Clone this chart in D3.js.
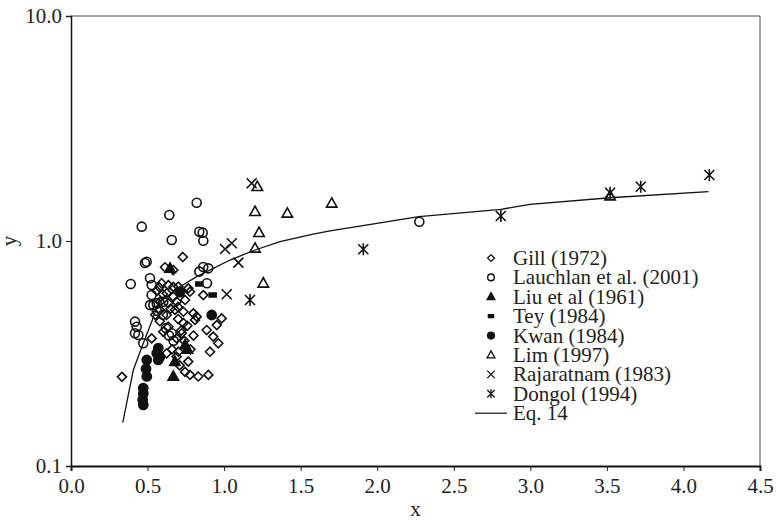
<!DOCTYPE html>
<html>
<head>
<meta charset="utf-8">
<script src="https://cdn.jsdelivr.net/npm/d3@7"></script>
<style>
  body { margin: 0; background: #fff; }
  text { font-family: "Liberation Serif", "Times New Roman", serif; fill: #222; }
</style>
</head>
<body>
<div id="chart"></div>
<script>
// data
var gill = [
  [0.333, 0.249], [0.730, 0.849], [0.614, 0.764], [0.668, 0.743], [0.577, 0.623],
  [0.636, 0.637], [0.701, 0.627], [0.766, 0.616], [0.864, 0.575], [0.592, 0.649],
  [0.668, 0.625], [0.777, 0.595], [0.625, 0.586], [0.668, 0.565], [0.581, 0.537],
  [0.636, 0.529], [0.690, 0.537], [0.745, 0.547], [0.679, 0.494], [0.734, 0.485],
  [0.799, 0.477], [0.625, 0.469], [0.810, 0.446], [0.984, 0.453], [0.952, 0.423],
  [0.886, 0.402], [0.929, 0.376], [0.962, 0.351], [0.908, 0.322], [0.821, 0.461],
  [0.745, 0.262], [0.777, 0.254], [0.831, 0.250], [0.897, 0.254], [0.690, 0.306],
  [0.766, 0.291], [0.527, 0.369], [0.636, 0.416], [0.603, 0.395], [0.625, 0.317],
  [0.701, 0.322], [0.690, 0.369], [0.723, 0.389], [0.734, 0.432], [0.699, 0.509],
  [0.581, 0.494], [0.550, 0.470], [0.580, 0.440], [0.600, 0.580], [0.560, 0.600],
  [0.650, 0.500], [0.700, 0.450], [0.740, 0.360], [0.720, 0.400], [0.760, 0.420],
  [0.660, 0.330], [0.780, 0.330], [0.710, 0.280], [0.800, 0.380]
];
var lauchlan = [
  [0.821, 1.480], [0.642, 1.305], [0.462, 1.158], [0.838, 1.100], [0.860, 1.089],
  [0.864, 1.003], [0.658, 1.010], [0.494, 0.809], [0.483, 0.798], [0.864, 0.766],
  [0.897, 0.756], [0.838, 0.731], [0.390, 0.644], [0.516, 0.683], [0.527, 0.637],
  [0.888, 0.649], [0.527, 0.575], [0.538, 0.519], [0.516, 0.519], [0.560, 0.528],
  [0.603, 0.537], [0.418, 0.438], [0.429, 0.416], [0.418, 0.389], [0.440, 0.382],
  [0.472, 0.351], [0.658, 0.389], [0.620, 0.410], [0.640, 0.380], [0.670, 0.360],
  [0.600, 0.470], [0.560, 0.490], [2.275, 1.218]
];
var liu = [[0.647, 0.756], [0.745, 0.345], [0.760, 0.330], [0.679, 0.291], [0.668, 0.250]];
var tey = [[0.838, 0.644], [0.925, 0.575]];
var kwan = [
  [0.495, 0.296], [0.490, 0.270], [0.495, 0.250], [0.472, 0.222], [0.472, 0.210],
  [0.468, 0.197], [0.472, 0.187], [0.570, 0.334], [0.560, 0.317], [0.581, 0.306],
  [0.570, 0.296], [0.712, 0.593], [0.919, 0.469]
];
var lim = [
  [1.217, 1.743], [1.202, 1.350], [1.413, 1.328], [1.703, 1.471], [1.228, 1.089],
  [1.202, 0.928], [1.256, 0.649], [3.521, 1.585]
];
var rajaratnam = [[1.180, 1.805], [1.050, 0.977], [1.006, 0.921], [1.093, 0.801], [1.017, 0.580]];
var dongol = [[1.169, 0.547], [1.909, 0.919], [2.807, 1.291], [3.521, 1.639], [3.721, 1.743], [4.169, 1.965]];
var eq14 = [
  [0.338, 0.156], [0.407, 0.267], [0.472, 0.351], [0.527, 0.438], [0.570, 0.529],
  [0.712, 0.626], [0.821, 0.694], [0.929, 0.756], [1.039, 0.823], [1.202, 0.912],
  [1.365, 0.993], [1.581, 1.074], [1.692, 1.108], [2.273, 1.282], [2.807, 1.383],
  [2.998, 1.456], [3.521, 1.557], [4.163, 1.656]
];
var xTicks = [0, 0.5, 1, 1.5, 2, 2.5, 3, 3.5, 4, 4.5];
var yTicks = [0.1, 1, 10];

var width = 777,
  height = 520,
  plotLeft = 71,
  plotRight = 760,
  plotTop = 16,
  plotBottom = 466,
  fontSize = '21px';

var x = d3.scaleLinear().domain([0, 4.5]).range([plotLeft, plotRight]);
var y = d3.scaleLog().domain([0.1, 10]).range([plotBottom, plotTop]);

var svg = d3.select('#chart').append('svg')
  .attr('width', width)
  .attr('height', height);

// marker shapes
function diamond(s) { return 'M0,' + (-s) + 'L' + s + ',0L0,' + s + 'L' + (-s) + ',0Z'; }
function triangle(s) { return 'M0,' + (-s) + 'L' + (s * 0.95) + ',' + (s * 0.7) + 'L' + (-s * 0.95) + ',' + (s * 0.7) + 'Z'; }
function cross(s) { return 'M' + (-s) + ',' + (-s) + 'L' + s + ',' + s + 'M' + (-s) + ',' + s + 'L' + s + ',' + (-s); }
function asterisk(s) { return cross(s) + 'M0,' + (-s * 1.2) + 'L0,' + (s * 1.2); }
function circle(s) { return 'M' + s + ',0A' + s + ',' + s + ' 0 1,1 ' + (-s) + ',0A' + s + ',' + s + ' 0 1,1 ' + s + ',0Z'; }
function dash(s) { return 'M' + (-s) + ',' + (-s * 0.55) + 'h' + (2 * s) + 'v' + (1.1 * s) + 'h' + (-2 * s) + 'Z'; }

var series = [
  { name: 'Gill (1972)', data: gill, shape: diamond, size: 4.5, fill: 'none' },
  { name: 'Lauchlan et al. (2001)', data: lauchlan, shape: circle, size: 4.5, fill: 'none' },
  { name: 'Liu et al (1961)', data: liu, shape: triangle, size: 5.5, fill: '#111' },
  { name: 'Tey (1984)', data: tey, shape: dash, size: 3.5, fill: '#111' },
  { name: 'Kwan (1984)', data: kwan, shape: circle, size: 4.6, fill: '#111' },
  { name: 'Lim (1997)', data: lim, shape: triangle, size: 5.5, fill: 'none' },
  { name: 'Rajaratnam (1983)', data: rajaratnam, shape: cross, size: 5, fill: 'none' },
  { name: 'Dongol (1994)', data: dongol, shape: asterisk, size: 5, fill: 'none' }
];

// frame
svg.append('path')
  .attr('d', 'M' + plotLeft + ',' + plotTop + 'H' + plotRight + 'V' + plotBottom)
  .attr('fill', 'none')
  .attr('stroke', '#444')
  .attr('stroke-width', 1);

// axes
var xAxis = svg.append('g')
  .attr('transform', 'translate(0,' + plotBottom + ')')
  .call(d3.axisBottom(x).tickValues(xTicks).tickFormat(d3.format('.1f')).tickSizeOuter(0).tickSize(5));
xAxis.select('.domain').attr('stroke-width', 2).attr('stroke', '#111');
xAxis.selectAll('.tick line').attr('stroke', '#222');
xAxis.selectAll('text').attr('y', 11).attr('dy', '0.75em').style('font-size', fontSize);

var yAxis = svg.append('g')
  .attr('transform', 'translate(' + plotLeft + ',0)')
  .call(d3.axisLeft(y).tickValues(yTicks).tickFormat(d3.format('.1f')).tickSizeOuter(0).tickSize(5));
yAxis.select('.domain').attr('stroke-width', 1.5).attr('stroke', '#111');
yAxis.selectAll('.tick line').attr('stroke', '#222');
yAxis.selectAll('text').attr('x', -9).style('font-size', fontSize);

svg.append('text')
  .attr('x', (plotLeft + plotRight) / 2)
  .attr('y', 516)
  .attr('text-anchor', 'middle')
  .style('font-size', fontSize)
  .text('x');

svg.append('text')
  .attr('transform', 'translate(16,' + y(1) + ')rotate(-90)')
  .attr('text-anchor', 'middle')
  .style('font-size', fontSize)
  .text('y');

// Eq. 14 curve
var line = d3.line()
  .x(function (d) { return x(d[0]); })
  .y(function (d) { return y(d[1]); });

svg.append('path')
  .datum(eq14)
  .attr('d', line)
  .attr('fill', 'none')
  .attr('stroke', '#111')
  .attr('stroke-width', 1.3);

// points
series.forEach(function (s) {
  svg.append('g').selectAll('path')
    .data(s.data)
    .enter().append('path')
      .attr('transform', function (d) { return 'translate(' + x(d[0]) + ',' + y(d[1]) + ')'; })
      .attr('d', s.shape(s.size))
      .attr('fill', s.fill)
      .attr('stroke', '#111')
      .attr('stroke-width', 1.6);
});

// legend
var legend = svg.append('g').attr('transform', 'translate(491,258)');
var rowH = 19.4;

var rows = legend.selectAll('g')
  .data(series)
  .enter().append('g')
    .attr('transform', function (d, i) { return 'translate(0,' + i * rowH + ')'; });

rows.append('path')
  .attr('d', function (d) { return d.shape(d.size * 0.75); })
  .attr('fill', function (d) { return d.fill; })
  .attr('stroke', '#111')
  .attr('stroke-width', 1.3);

rows.append('text')
  .attr('x', 22)
  .attr('y', 7)
  .style('font-size', fontSize)
  .text(function (d) { return d.name; });

legend.append('line')
  .attr('x1', -16)
  .attr('x2', 16)
  .attr('y1', series.length * rowH)
  .attr('y2', series.length * rowH)
  .attr('stroke', '#111')
  .attr('stroke-width', 1.2);

legend.append('text')
  .attr('x', 22)
  .attr('y', series.length * rowH + 7)
  .style('font-size', fontSize)
  .text('Eq. 14');
</script>
</body>
</html>
